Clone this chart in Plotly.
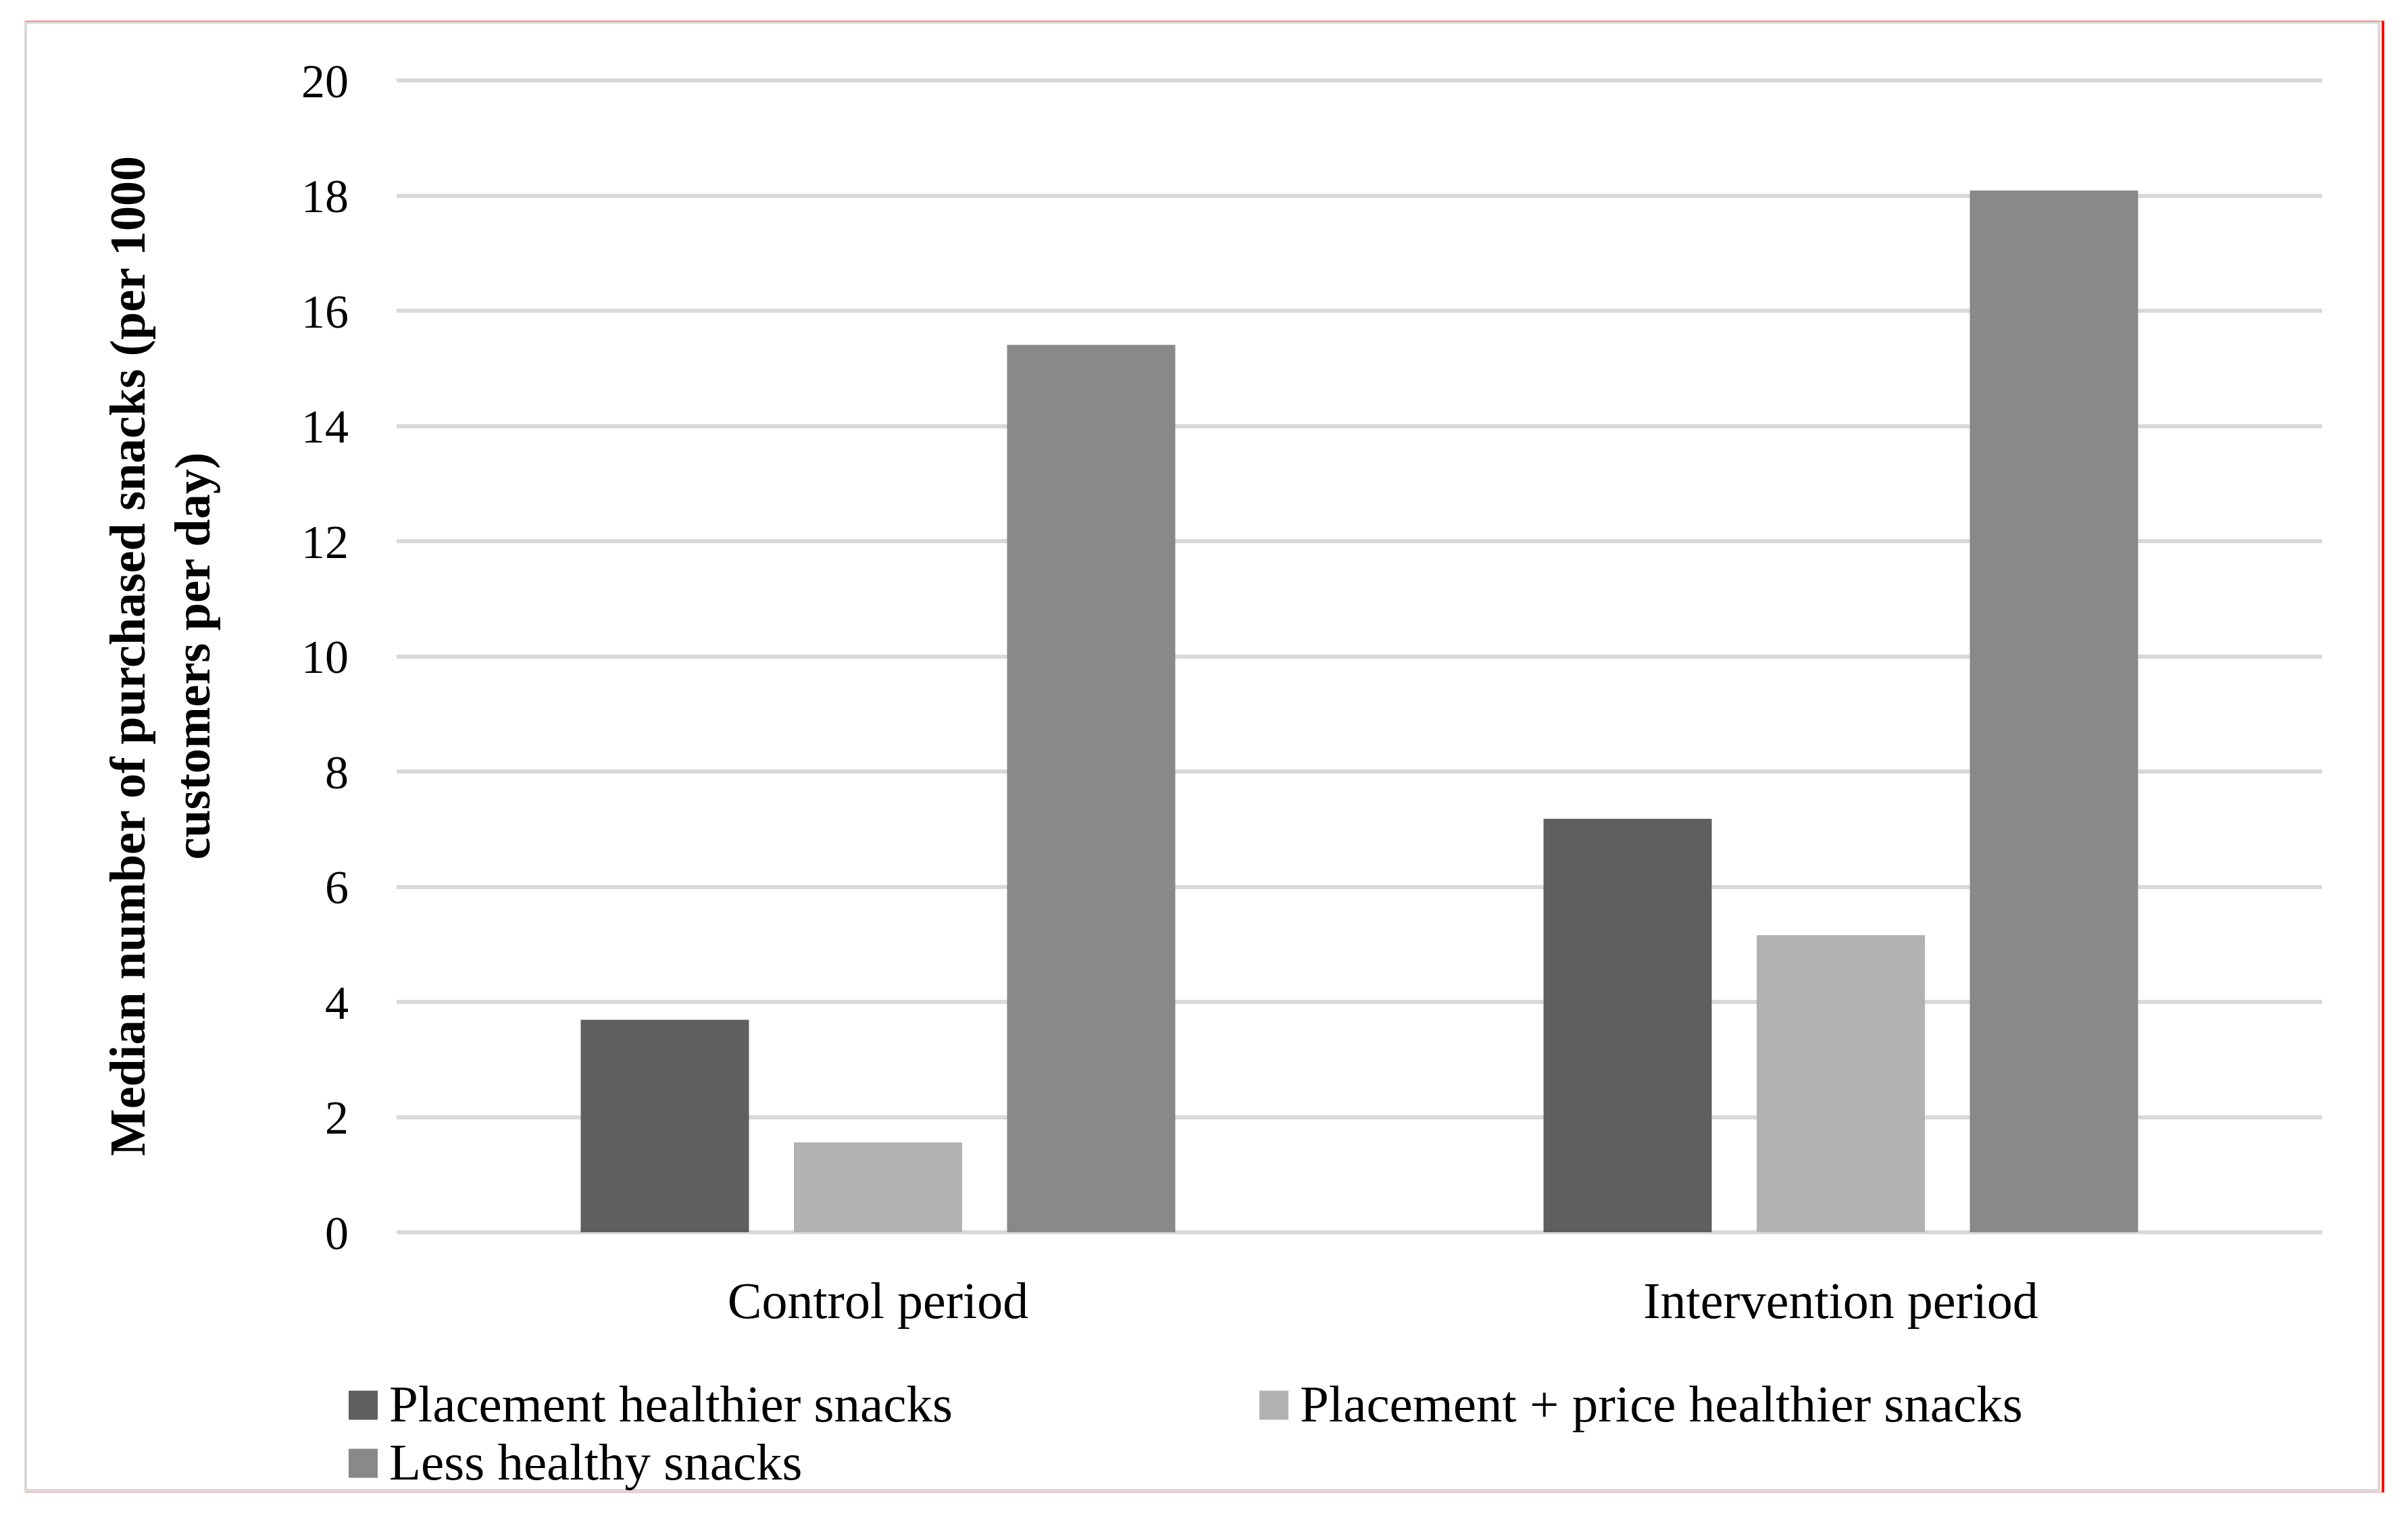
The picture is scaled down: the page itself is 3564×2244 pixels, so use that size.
import plotly.graph_objects as go

# ---- data ----
categories = ["Control period", "Intervention period"]
series_names = ["Placement healthier snacks", "Placement + price healthier snacks", "Less healthy snacks"]
placement = [3.69, 7.18]
placement_price = [1.56, 5.16]
less_healthy = [15.41, 18.09]
series_values = [placement, placement_price, less_healthy]
series_colors = ["#5f5f5f", "#b2b2b2", "#898989"]
y_ticks = [0, 2, 4, 6, 8, 10, 12, 14, 16, 18, 20]
y_title = "Median number of purchased snacks (per 1000<br>customers per day)"

OFF = 8                       # browser body margin
W, H = 3564 - 2 * OFF, 2244 - 2 * OFF
FONT = "Liberation Serif"
Y_MAX = 20.05
# page-pixel geometry of the plot area (value 0 .. 20)
P_LEFT, P_RIGHT, P_TOP20, P_BOTTOM = 587, 3437, 119, 1824
px_per_unit = (P_BOTTOM - P_TOP20) / 20.0
PW = P_RIGHT - P_LEFT
PH = px_per_unit * Y_MAX
L = P_LEFT - OFF
R = W - (P_RIGHT - OFF)
B = H - (P_BOTTOM - OFF)
T = H - B - PH


def px2x(px):
    return (px - P_LEFT) / PW


def py2y(py):
    return (P_BOTTOM - py) / PH


fig = go.Figure()
for name, vals, col in zip(series_names, series_values, series_colors):
    fig.add_trace(go.Bar(x=categories, y=vals, name=name, marker=dict(color=col, line=dict(width=0)),
                         showlegend=False))

fig.update_layout(
    width=W, height=H,
    margin=dict(l=L, r=R, t=T, b=B, autoexpand=False),
    paper_bgcolor="white", plot_bgcolor="white",
    barmode="group", bargap=0.3358, bargroupgap=0.2108,
    font=dict(family=FONT, size=72, color="black"),
)
fig.update_xaxes(showgrid=False, showline=False, zeroline=False, ticks="",
                 tickfont=dict(size=76, family=FONT), ticklabelstandoff=50)
fig.update_yaxes(range=[0, Y_MAX], tickvals=y_ticks, showgrid=True, gridcolor="#d9d9d9", gridwidth=6,
                 zeroline=True, zerolinecolor="#d9d9d9", zerolinewidth=6, showline=False, ticks="",
                 tickfont=dict(size=70, family=FONT), ticklabelstandoff=70)

# axis title
fig.add_annotation(text="<b>" + y_title + "</b>", xref="paper", yref="paper",
                   x=px2x(237), y=py2y(971), textangle=-90, showarrow=False,
                   xanchor="center", yanchor="middle", font=dict(size=74, family=FONT))

# custom legend (large square swatches)
legend_slots = [(516, 2080), (1864, 2080), (516, 2166)]
sw = 43
for (lx, ly), name, col in zip(legend_slots, series_names, series_colors):
    fig.add_shape(type="rect", xref="paper", yref="paper",
                  x0=px2x(lx), x1=px2x(lx + sw), y0=py2y(ly + sw / 2), y1=py2y(ly - sw / 2),
                  fillcolor=col, line=dict(width=0))
    fig.add_annotation(text=name, xref="paper", yref="paper", x=px2x(lx + 58), y=py2y(ly - 2),
                       xanchor="left", yanchor="middle", showarrow=False,
                       font=dict(size=77, family=FONT))

# chart-area border
fig.add_shape(type="rect", xref="paper", yref="paper",
              x0=px2x(38), x1=px2x(3521), y0=py2y(2206), y1=py2y(33),
              line=dict(color="#d9d9d9", width=4), fillcolor="rgba(0,0,0,0)", layer="below")
fig.add_shape(type="line", xref="paper", yref="paper",
              x0=px2x(37), x1=px2x(3529), y0=py2y(31), y1=py2y(31),
              line=dict(color="#f08080", width=1.5))
fig.add_shape(type="line", xref="paper", yref="paper",
              x0=px2x(37), x1=px2x(3529), y0=py2y(2209), y1=py2y(2209),
              line=dict(color="#f4b0b0", width=1.5))
fig.add_shape(type="line", xref="paper", yref="paper",
              x0=px2x(3527), x1=px2x(3527), y0=py2y(31), y1=py2y(2209),
              line=dict(color="#ff0000", width=4))

fig.write_html("out.html")
